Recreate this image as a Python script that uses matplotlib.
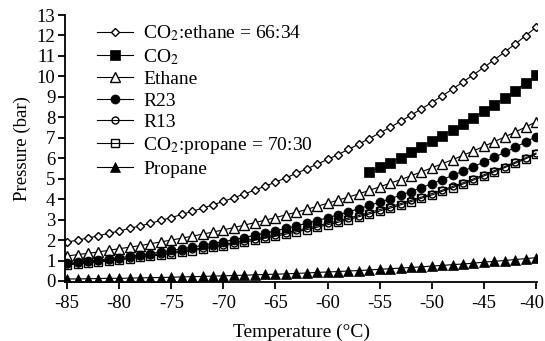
import numpy as np
import matplotlib
matplotlib.use("Agg")
from matplotlib import pyplot as plt
from matplotlib.transforms import ScaledTranslation

plt.rcParams['font.family'] = ['Liberation Serif', 'DejaVu Serif']
plt.rcParams['mathtext.fontset'] = 'stix'
plt.rcParams['axes.unicode_minus'] = False

temps = list(range(-85, -39))

co2_ethane = [1.90, 2.00, 2.10, 2.21, 2.33, 2.44, 2.57, 2.69, 2.82, 2.96,
              3.10, 3.25, 3.40, 3.56, 3.72, 3.89, 4.07, 4.25, 4.44, 4.63,
              4.83, 5.04, 5.26, 5.48, 5.71, 5.94, 6.18, 6.43, 6.69, 6.96,
              7.23, 7.51, 7.80, 8.10, 8.41, 8.72, 9.05, 9.38, 9.73, 10.08,
              10.44, 10.81, 11.19, 11.58, 11.98, 12.40]

co2_temps = list(range(-56, -39))
co2 = [5.32, 5.55, 5.78, 6.03, 6.28, 6.55, 6.83, 7.10, 7.38, 7.67,
       7.98, 8.29, 8.62, 8.96, 9.31, 9.67, 10.05]

ethane = [1.22, 1.29, 1.35, 1.42, 1.50, 1.58, 1.65, 1.73, 1.82, 1.91,
          2.00, 2.09, 2.19, 2.29, 2.39, 2.50, 2.61, 2.73, 2.85, 2.97,
          3.10, 3.23, 3.36, 3.50, 3.65, 3.80, 3.95, 4.10, 4.26, 4.43,
          4.60, 4.78, 4.95, 5.14, 5.33, 5.53, 5.73, 5.93, 6.14, 6.36,
          6.58, 6.81, 7.04, 7.28, 7.52, 7.78]

r23 = [0.86, 0.91, 0.96, 1.02, 1.08, 1.14, 1.20, 1.27, 1.34, 1.41,
       1.49, 1.57, 1.65, 1.74, 1.83, 1.92, 2.02, 2.12, 2.23, 2.34,
       2.45, 2.57, 2.69, 2.82, 2.95, 3.09, 3.23, 3.38, 3.53, 3.69,
       3.85, 4.02, 4.19, 4.37, 4.56, 4.75, 4.95, 5.16, 5.37, 5.59,
       5.81, 6.05, 6.28, 6.53, 6.79, 7.05]

r13 = [0.82, 0.87, 0.92, 0.97, 1.02, 1.08, 1.14, 1.20, 1.26, 1.33,
       1.39, 1.47, 1.54, 1.62, 1.70, 1.78, 1.87, 1.96, 2.06, 2.15,
       2.25, 2.36, 2.47, 2.58, 2.70, 2.82, 2.94, 3.07, 3.20, 3.34,
       3.49, 3.63, 3.78, 3.94, 4.10, 4.27, 4.44, 4.62, 4.80, 4.99,
       5.19, 5.39, 5.59, 5.81, 6.02, 6.25]

co2_propane = [0.78, 0.83, 0.87, 0.92, 0.98, 1.03, 1.09, 1.15, 1.21, 1.27,
               1.34, 1.41, 1.48, 1.56, 1.64, 1.72, 1.81, 1.90, 1.99, 2.09,
               2.19, 2.29, 2.40, 2.51, 2.63, 2.75, 2.87, 3.00, 3.14, 3.27,
               3.42, 3.56, 3.72, 3.87, 4.04, 4.20, 4.38, 4.56, 4.74, 4.93,
               5.13, 5.33, 5.54, 5.75, 5.97, 6.20]

propane = [0.10, 0.10, 0.11, 0.12, 0.13, 0.13, 0.14, 0.15, 0.16, 0.17,
           0.18, 0.20, 0.21, 0.22, 0.24, 0.25, 0.27, 0.28, 0.30, 0.32,
           0.33, 0.35, 0.37, 0.39, 0.42, 0.44, 0.46, 0.49, 0.51, 0.54,
           0.57, 0.60, 0.63, 0.66, 0.69, 0.73, 0.76, 0.80, 0.83, 0.87,
           0.92, 0.96, 1.00, 1.05, 1.09, 1.14]

labels = ['CO$_2$:ethane = 66:34', 'CO$_2$', 'Ethane', 'R23', 'R13',
          'CO$_2$:propane = 70:30', 'Propane']

fig = plt.figure(figsize=(5.45, 3.41), dpi=100)
ax = fig.add_axes([0.1193, 0.173, 0.866, 0.783])

lw = 0.8
mew = 1.0
ax.plot(temps, co2_ethane, '-D', color='k', lw=lw, ms=4.2, mfc='white', mew=mew, label=labels[0])
ax.plot(co2_temps, co2, 's', color='k', ms=7.0, mew=0.5, label=labels[1], ls='-', lw=lw)
ax.plot(temps, ethane, '-^', color='k', lw=lw, ms=6.8, mfc='white', mew=mew, label=labels[2])
ax.plot(temps, r23, '-o', color='k', lw=lw, ms=6.5, mew=0.5, label=labels[3])
ax.plot(temps, r13, '-o', color='k', lw=lw, ms=5.0, mfc='none', mew=mew, label=labels[4])
ax.plot(temps, co2_propane, '-s', color='k', lw=lw, ms=6.2, mfc='none', mew=mew, label=labels[5])
ax.plot(temps, propane, '-^', color='k', lw=lw, ms=6.8, mew=0.5, label=labels[6])

ax.set_xlim(-85.2, -39.9)
ax.set_ylim(-0.05, 13)
ax.set_xticks(range(-85, -39, 5))
ax.set_yticks(range(0, 14))
for s in ['top', 'right']:
    ax.spines[s].set_visible(False)
for s in ['left', 'bottom']:
    ax.spines[s].set_linewidth(1.3)
ax.tick_params(direction='out', length=5, width=1.3, labelsize=13.5)
ax.tick_params(axis='x', pad=4)
ax.tick_params(axis='y', pad=2)

# last x label sits at the right edge, nudge it in a little
fig.canvas.draw()
last = ax.get_xticklabels()[-1]
last.set_transform(last.get_transform() + ScaledTranslation(-3 / 72, 0, fig.dpi_scale_trans))

ax.set_xlabel('Temperature (°C)', fontsize=14, labelpad=9)
ax.set_ylabel('Pressure (bar)', fontsize=13.5, labelpad=4)

ax.legend(loc='upper left', bbox_to_anchor=(0.044, 1.012), frameon=False,
          fontsize=14, handlelength=1.85, handletextpad=0.5, labelspacing=0.2,
          borderaxespad=0.2)

fig.savefig('out.png', dpi=100)
